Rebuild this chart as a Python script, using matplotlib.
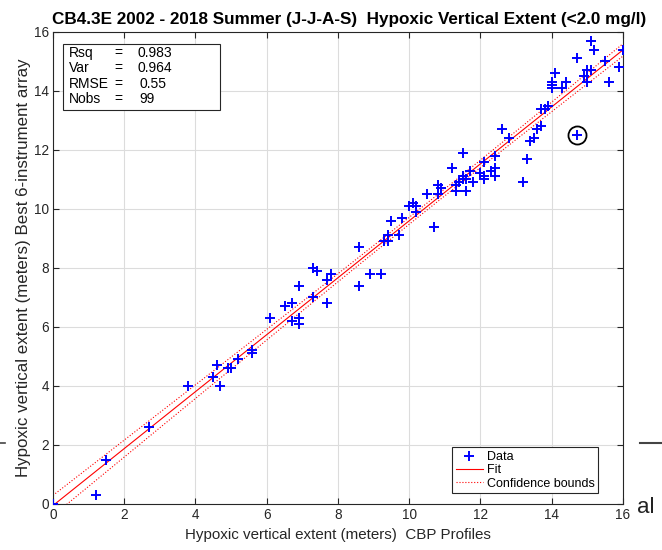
#importing libraries
import numpy as np
import matplotlib
matplotlib.use("Agg")
import matplotlib.pyplot as plt
from matplotlib.patches import Rectangle

plt.rcParams['font.family'] = ['Liberation Sans', 'DejaVu Sans']

#data: CBP profiles (x) vs best 6-instrument array (y)
cbp = [0.0, 1.2, 1.5, 2.7, 3.8, 4.5, 4.6, 4.7, 4.9, 5.0, 5.2, 5.6, 5.6, 6.1, 6.5,
       6.7, 6.7, 6.9, 6.9, 6.9, 7.3, 7.3, 7.4, 7.7, 7.7, 7.8, 8.6, 8.6, 8.9, 9.2,
       9.3, 9.4, 9.4, 9.5, 9.7, 9.8, 10.0, 10.1, 10.2, 10.2, 10.5, 10.7, 10.8, 10.9, 10.8,
       11.2, 11.3, 11.3, 11.4, 11.5, 11.5, 11.6, 11.6, 11.5, 11.7, 11.8, 12.0, 12.1, 12.1, 12.1,
       12.3, 12.4, 12.4, 12.4, 12.6, 12.8, 13.2, 13.3, 13.4, 13.5, 13.6, 13.7, 13.7, 13.8, 13.9,
       14.0, 14.0, 14.0, 14.1, 14.3, 14.4, 14.7, 14.7, 14.9, 15.0, 15.0, 15.1, 15.1, 15.2, 15.5,
       15.6, 15.9, 16.0]
array6 = [0.0, 0.3, 1.5, 2.6, 4.0, 4.3, 4.7, 4.0, 4.6, 4.6, 4.9, 5.2, 5.1, 6.3, 6.7,
          6.8, 6.2, 6.3, 6.1, 7.4, 7.0, 8.0, 7.9, 6.8, 7.6, 7.8, 7.4, 8.7, 7.8, 7.8,
          8.9, 8.9, 9.1, 9.6, 9.1, 9.7, 10.1, 10.2, 10.1, 9.9, 10.5, 9.4, 10.8, 10.7, 10.5,
          11.4, 10.8, 10.6, 10.9, 11.0, 11.1, 11.0, 10.6, 11.9, 11.3, 10.9, 11.2, 11.1, 11.0, 11.6,
          11.3, 11.4, 11.1, 11.8, 12.7, 12.4, 10.9, 11.7, 12.3, 12.4, 12.7, 12.8, 13.4, 13.4, 13.5,
          14.1, 14.2, 14.3, 14.6, 14.1, 14.3, 12.5, 15.1, 14.5, 14.3, 14.7, 14.7, 15.7, 15.4, 15.0,
          14.3, 14.8, 15.4]

#flagged point (circled)
flag_x = [14.7]
flag_y = [12.5]

stat_names = ['Rsq', 'Var', 'RMSE', 'Nobs']
stat_values = ['0.983', '0.964', '0.55', '99']
ticks = [0, 2, 4, 6, 8, 10, 12, 14, 16]

#linear fit + confidence bounds
x = np.array(cbp)
y = np.array(array6)
slope, intercept = np.polyfit(x, y, 1)
xf = np.linspace(0, 16, 200)
yf = slope * xf + intercept
n = len(x)
resid = y - (slope * x + intercept)
s = np.sqrt(np.sum(resid ** 2) / (n - 2))
half = 1.98 * s * np.sqrt(1.0 / n + (xf - x.mean()) ** 2 / np.sum((x - x.mean()) ** 2))

fig = plt.figure(figsize=(6.62, 5.5), dpi=100)
ax = fig.add_axes([0.080, 0.084, 0.861, 0.858])

ax.plot(x, y, '+', color='blue', markersize=7, mew=1.4, label='Data', zorder=3)
ax.plot(xf, yf, '-', color='red', lw=0.8, label='Fit', zorder=2)
ax.plot(xf, yf + half, ':', color='red', lw=0.8, label='Confidence bounds', zorder=2)
ax.plot(xf, yf - half, ':', color='red', lw=0.8, zorder=2)
ax.plot(flag_x, flag_y, 'o', mfc='none', mec='black', markersize=13, mew=1.3, zorder=4)

ax.set_xlim(0, 16)
ax.set_ylim(0, 16)
ax.set_xticks(ticks)
ax.set_yticks(ticks)
ax.grid(True, color='#dcdcdc', lw=0.8)
ax.set_axisbelow(True)
ax.tick_params(direction='in', top=True, right=True, labelsize=9.8, colors='#262626',
               length=4, pad=3)
for sp in ax.spines.values():
    sp.set_color('#262626')
    sp.set_linewidth(0.8)

ax.set_title('CB4.3E 2002 - 2018 Summer (J-J-A-S)  Hypoxic Vertical Extent (<2.0 mg/l)',
             fontsize=12.3, fontweight='bold', pad=6, x=0.52)
ax.set_xlabel('Hypoxic vertical extent (meters)  CBP Profiles', fontsize=10.9, color='#262626')
ax.set_ylabel('Hypoxic vertical extent (meters) Best 6-instrument array', fontsize=12.2,
              color='#262626', labelpad=2)

#stats box
ax.add_patch(Rectangle((0.0175, 0.835), 0.276, 0.14, transform=ax.transAxes,
                       facecolor='white', edgecolor='#262626', lw=0.8, zorder=5))
for i in range(len(stat_names)):
    yy = 0.955 - i * 0.0325
    ax.text(0.028, yy, stat_names[i], transform=ax.transAxes, fontsize=10, va='center', zorder=6)
    ax.text(0.108, yy, '=', transform=ax.transAxes, fontsize=10, va='center', zorder=6)
    ax.text(0.148 if i < 2 else 0.152, yy, stat_values[i], transform=ax.transAxes,
            fontsize=10, va='center', zorder=6)

leg = ax.legend(loc='lower right', bbox_to_anchor=(0.957, 0.022), fontsize=9,
                fancybox=False, framealpha=1, edgecolor='#262626', borderpad=0.3,
                labelspacing=0.1, handlelength=2.2, handletextpad=0.3, borderaxespad=0)
leg.get_frame().set_linewidth(0.8)

#leftover bits of the slide behind the chart
fig.text(0.962, 0.068, 'al', fontsize=16, color='#222222')
fig.add_artist(plt.Line2D([0.967, 1.0], [0.195, 0.195], color='#444444', lw=1.5))
fig.add_artist(plt.Line2D([0.0, 0.007], [0.195, 0.195], color='#444444', lw=1.2))

fig.savefig('out.png', dpi=100)
